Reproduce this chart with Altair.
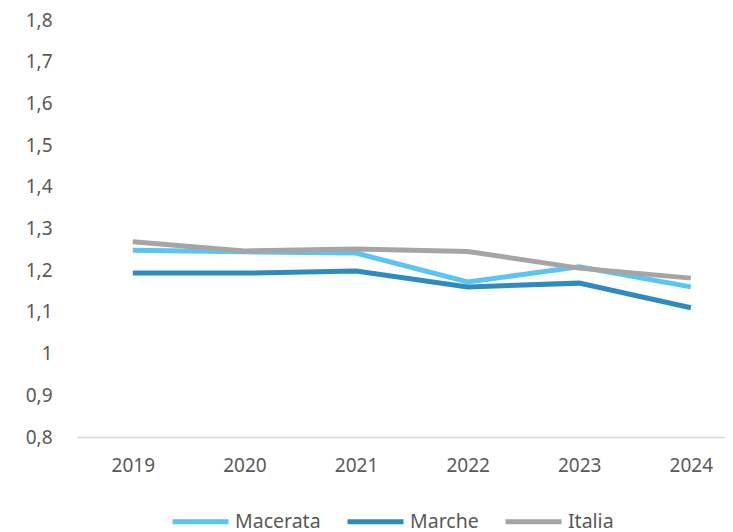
import altair as alt
import pandas as pd

years = [2019, 2020, 2021, 2022, 2023, 2024]
macerata = [1.248, 1.244, 1.241, 1.172, 1.208, 1.160]
marche = [1.193, 1.193, 1.198, 1.160, 1.169, 1.110]
italia = [1.268, 1.246, 1.251, 1.245, 1.205, 1.181]
series = ["Macerata", "Marche", "Italia"]
colors = ["#5BC5F2", "#2E8BC0", "#A5A5A5"]
y_ticks = [0.8, 0.9, 1.0, 1.1, 1.2, 1.3, 1.4, 1.5, 1.6, 1.7, 1.8]

rows = []
for name, vals in zip(series, [macerata, marche, italia]):
    for yr, v in zip(years, vals):
        rows.append({"anno": yr, "valore": v, "serie": name})
df = pd.DataFrame(rows)

font = "Noto Sans"
chart = alt.Chart(df).mark_line(strokeWidth=5, strokeCap="butt").encode(
    x=alt.X("anno:Q", scale=alt.Scale(domain=[2018.5, 2024.306], nice=False, zero=False),
            axis=alt.Axis(values=years, format="d", title=None, grid=False, ticks=False,
                          domainColor="#D9D9D9", domainWidth=1.5, labelPadding=19,
                          labelFontSize=19, labelColor="#595959", labelFont=font)),
    y=alt.Y("valore:Q", scale=alt.Scale(domain=[0.8, 1.8], nice=False, zero=False),
            axis=alt.Axis(values=y_ticks, title=None, grid=False, ticks=False, domain=False,
                          labelPadding=25, labelFontSize=19, labelColor="#595959", labelFont=font,
                          labelExpr="abs(datum.value-1)<0.001 ? '1' : replace(format(datum.value, '.1f'), '.', ',')")),
    color=alt.Color("serie:N", sort=series,
                    scale=alt.Scale(domain=series, range=colors),
                    legend=alt.Legend(title=None, orient="none", direction="horizontal",
                                      legendX=93, legendY=471, symbolType="stroke",
                                      symbolSize=3136, symbolStrokeWidth=5, labelFontSize=19.5,
                                      labelFont=font, labelColor="#595959", labelOffset=4,
                                      columnPadding=16, padding=0)),
    order=alt.Order("anno:Q"),
).properties(
    width=648, height=417,
    autosize=alt.AutoSizeParams(type="none"),
    padding={"left": 69, "top": 12, "right": 0, "bottom": 95},
).configure_view(stroke=None)

chart.save("out.html", embed_options={"renderer": "svg", "actions": False})
